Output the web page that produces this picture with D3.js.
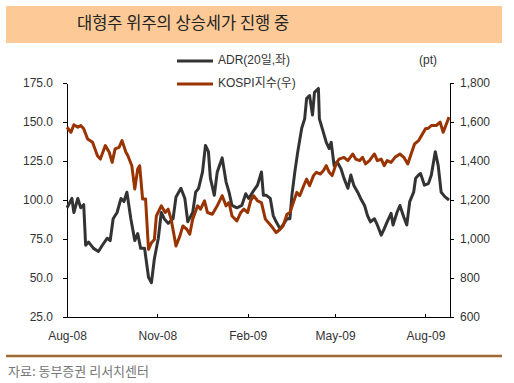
<!DOCTYPE html>
<html>
<head>
<meta charset="utf-8">
<script src="https://cdn.jsdelivr.net/npm/d3@7"></script>
<style>
  body { margin: 0; background: #fff; }
  svg text { font-family: "Liberation Sans", "Noto Sans CJK KR", sans-serif; }
  .axis path, .axis line { stroke: #000; shape-rendering: crispEdges; }
  .axis text { font-size: 12px; fill: #333; }
</style>
</head>
<body>
<script>
// ADR (20-day), left axis
var adrDates = ["2008-08-01","2008-08-06","2008-08-08","2008-08-12","2008-08-15","2008-08-18","2008-08-20","2008-08-23","2008-08-28",
  "2008-09-02","2008-09-06","2008-09-11","2008-09-14","2008-09-17","2008-09-21","2008-09-25","2008-09-28","2008-10-01",
  "2008-10-05","2008-10-09","2008-10-12","2008-10-15","2008-10-19","2008-10-23","2008-10-26","2008-10-29",
  "2008-11-02","2008-11-05","2008-11-08","2008-11-12","2008-11-17","2008-11-20","2008-11-25","2008-11-29",
  "2008-12-02","2008-12-07","2008-12-10","2008-12-13","2008-12-17","2008-12-20","2008-12-23","2008-12-25","2008-12-29",
  "2009-01-01","2009-01-06","2009-01-10","2009-01-13","2009-01-16","2009-01-21","2009-01-26","2009-01-30",
  "2009-02-02","2009-02-06","2009-02-11","2009-02-15","2009-02-17","2009-02-20","2009-02-24","2009-02-27",
  "2009-03-02","2009-03-06","2009-03-09","2009-03-13","2009-03-16","2009-03-18","2009-03-21","2009-03-24","2009-03-28","2009-03-31",
  "2009-04-02","2009-04-05","2009-04-08","2009-04-10","2009-04-14","2009-04-15","2009-04-19","2009-04-22","2009-04-25","2009-04-27","2009-04-30",
  "2009-05-03","2009-05-07","2009-05-10","2009-05-14","2009-05-17","2009-05-20","2009-05-24","2009-05-27","2009-05-31",
  "2009-06-03","2009-06-06","2009-06-10","2009-06-13","2009-06-17","2009-06-20","2009-06-23","2009-06-27","2009-06-29",
  "2009-07-03","2009-07-06","2009-07-10","2009-07-13","2009-07-16","2009-07-20","2009-07-22","2009-07-25","2009-07-27","2009-07-31",
  "2009-08-04","2009-08-07","2009-08-11","2009-08-14","2009-08-17","2009-08-21","2009-08-25"];
var adrValues = [95,101,92,101,95,97,71,73,69,
  67,71,75.5,74,88,92,101,99,105,
  88,74,78.5,69,69,50.5,47,62.5,
  75.5,92,88,85,88,102,107.5,101,
  86,92,105,107.5,118,135,131,114,103,
  118,127,111.5,105,96.5,95,96.5,104,
  101,105,109.5,118,103,103,101,90,
  86,81.5,84,88,88,103,118,131,146,152,
  165,167,154.5,169,171.5,152,143.5,137,133,137,122,
  124.5,120,114,107.5,116,109.5,105,101,96.5,
  90,86,88,84,77.5,81.5,86,91.5,84,
  92,96.5,89,84,99,105,114,116,117,109.5,
  110.5,116,131,122,105,102,100];

// KOSPI index, right axis
var kospiDates = ["2008-08-01","2008-08-05","2008-08-08","2008-08-12","2008-08-15","2008-08-18","2008-08-22","2008-08-27",
  "2008-09-01","2008-09-04","2008-09-09","2008-09-13","2008-09-16","2008-09-19","2008-09-23","2008-09-26","2008-09-30",
  "2008-10-02","2008-10-06","2008-10-09","2008-10-12","2008-10-14","2008-10-17","2008-10-20","2008-10-23","2008-10-26","2008-10-29","2008-10-31",
  "2008-11-05","2008-11-09","2008-11-12","2008-11-15","2008-11-20","2008-11-24","2008-11-27",
  "2008-12-01","2008-12-04","2008-12-07","2008-12-12","2008-12-15","2008-12-19","2008-12-22","2008-12-27",
  "2009-01-01","2009-01-06","2009-01-10","2009-01-13","2009-01-16","2009-01-21","2009-01-25","2009-01-28",
  "2009-02-01","2009-02-04","2009-02-07","2009-02-11","2009-02-15","2009-02-19","2009-02-22","2009-02-25",
  "2009-03-02","2009-03-06","2009-03-09","2009-03-13","2009-03-16","2009-03-19","2009-03-23","2009-03-26","2009-03-30",
  "2009-04-02","2009-04-05","2009-04-09","2009-04-12","2009-04-16","2009-04-19","2009-04-22","2009-04-25","2009-04-28",
  "2009-05-02","2009-05-05","2009-05-10","2009-05-14","2009-05-19","2009-05-22","2009-05-26","2009-05-29",
  "2009-06-01","2009-06-05","2009-06-10","2009-06-13","2009-06-17","2009-06-20","2009-06-23","2009-06-27",
  "2009-07-01","2009-07-06","2009-07-10","2009-07-14","2009-07-18","2009-07-21","2009-07-25","2009-07-28",
  "2009-08-01","2009-08-04","2009-08-07","2009-08-12","2009-08-16","2009-08-19","2009-08-23","2009-08-25"];
var kospiValues = [1573,1547,1586,1573,1582,1565,1513,1496,
  1427,1410,1479,1445,1393,1462,1470,1505,1445,
  1427,1376,1256,1359,1376,1205,1205,947,981,998,1118,
  1170,1136,1153,1102,964,1016,1067,
  1050,1024,1102,1170,1153,1196,1136,1127,
  1170,1222,1170,1187,1118,1093,1136,1153,
  1136,1196,1222,1196,1187,1102,1084,1067,
  1033,1050,1067,1127,1136,1179,1239,1222,1273,
  1307,1273,1325,1342,1333,1350,1376,1342,1325,
  1385,1410,1419,1402,1436,1410,1402,1419,
  1385,1402,1436,1402,1410,1376,1402,1393,
  1419,1436,1419,1385,1445,1488,1505,1530,
  1565,1568,1582,1582,1599,1547,1599,1625];

var xTickDates = ["2008-08-01","2008-11-01","2009-02-01","2009-05-01","2009-08-01"];
var leftTicks = [25,50,75,100,125,150,175];
var rightTicks = [600,800,1000,1200,1400,1600,1800];

var W = 514, H = 383;
var margin = {top: 83, right: 64, bottom: 66, left: 67};
var width = W - margin.left - margin.right,
    height = H - margin.top - margin.bottom;

var parse = d3.timeParse("%Y-%m-%d");
var fmt = d3.timeFormat("%b-%y");

var svg = d3.select("body").append("svg")
  .attr("width", W)
  .attr("height", H);

// title banner
svg.append("rect")
  .attr("x", 6).attr("y", 6)
  .attr("width", 496).attr("height", 37)
  .attr("fill", "#FDCA97");
svg.append("text")
  .attr("x", 77).attr("y", 25)
  .attr("dominant-baseline", "middle")
  .style("font-family", "'Noto Sans CJK KR', sans-serif")
  .style("font-size", "16.5px")
  .attr("fill", "#222")
  .text("대형주 위주의 상승세가 진행 중");

var g = svg.append("g")
  .attr("transform", "translate(" + margin.left + "," + margin.top + ")");

var x = d3.scaleTime()
  .domain([parse("2008-08-01"), parse("2009-08-26")])
  .range([0, width]);

var yL = d3.scaleLinear().domain([25, 175]).range([height, 0]);
var yR = d3.scaleLinear().domain([600, 1800]).range([height, 0]);

// axes
g.append("g")
  .attr("class", "axis")
  .attr("transform", "translate(0," + height + ")")
  .call(d3.axisBottom(x)
    .tickValues(xTickDates.map(parse))
    .tickFormat(fmt)
    .tickSizeInner(-3)
    .tickSizeOuter(0)
    .tickPadding(14));

g.append("g")
  .attr("class", "axis")
  .call(d3.axisLeft(yL)
    .tickValues(leftTicks)
    .tickFormat(d3.format(".1f"))
    .tickSizeInner(4)
    .tickSizeOuter(0)
    .tickPadding(10));

g.append("g")
  .attr("class", "axis")
  .attr("transform", "translate(" + width + ",0)")
  .call(d3.axisRight(yR)
    .tickValues(rightTicks)
    .tickFormat(d3.format(","))
    .tickSizeInner(4)
    .tickSizeOuter(0)
    .tickPadding(6));

// lines
var adr = adrDates.map(function(d, i) { return {date: parse(d), value: adrValues[i]}; });
var kospi = kospiDates.map(function(d, i) { return {date: parse(d), value: kospiValues[i]}; });

g.append("path")
  .datum(adr)
  .attr("fill", "none")
  .attr("stroke", "#333333")
  .attr("stroke-width", 3)
  .attr("stroke-linejoin", "round")
  .attr("d", d3.line()
    .x(function(d) { return x(d.date); })
    .y(function(d) { return yL(d.value); }));

g.append("path")
  .datum(kospi)
  .attr("fill", "none")
  .attr("stroke", "#993300")
  .attr("stroke-width", 3)
  .attr("stroke-linejoin", "round")
  .attr("d", d3.line()
    .x(function(d) { return x(d.date); })
    .y(function(d) { return yR(d.value); }));

// legend
var legend = [{name: "ADR(20일,좌)", color: "#333333", y: 61},
              {name: "KOSPI지수(우)", color: "#993300", y: 84}];
legend.forEach(function(l) {
  svg.append("line")
    .attr("x1", 177).attr("x2", 213)
    .attr("y1", l.y).attr("y2", l.y)
    .attr("stroke", l.color)
    .attr("stroke-width", 3);
  svg.append("text")
    .attr("x", 218).attr("y", l.y)
    .attr("dominant-baseline", "middle")
    .style("font-size", "12px")
    .attr("fill", "#333")
    .text(l.name);
});

svg.append("text")
  .attr("x", 437).attr("y", 61)
  .attr("text-anchor", "end")
  .attr("dominant-baseline", "middle")
  .style("font-size", "12px")
  .attr("fill", "#333")
  .text("(pt)");

// bottom rule + source
svg.append("line")
  .attr("x1", 6).attr("x2", 502)
  .attr("y1", 356).attr("y2", 356)
  .attr("stroke", "#9C6A32")
  .attr("stroke-width", 2.5);

svg.append("text")
  .attr("x", 8).attr("y", 372)
  .attr("dominant-baseline", "middle")
  .style("font-family", "'Noto Sans CJK KR', sans-serif")
  .style("font-size", "13px")
  .attr("fill", "#777")
  .text("자료: 동부증권 리서치센터");
</script>
</body>
</html>
